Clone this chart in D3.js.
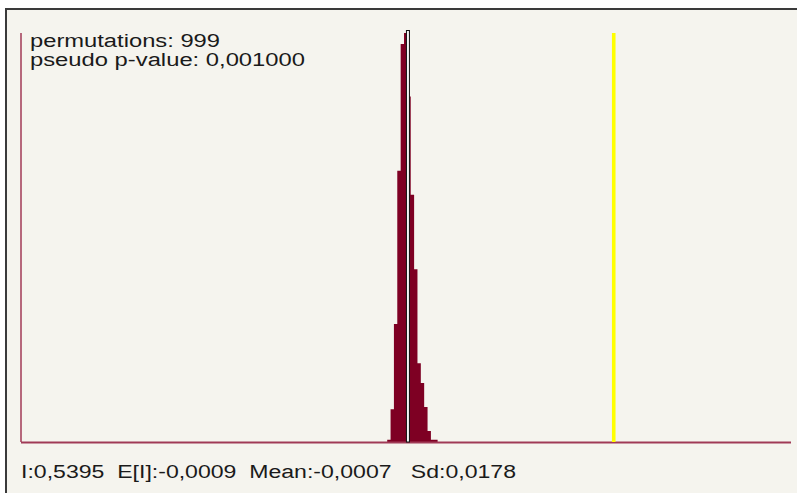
<!DOCTYPE html>
<html>
<head>
<meta charset="utf-8">
<script src="https://cdn.jsdelivr.net/npm/d3@7"></script>
<style>
  html, body { margin: 0; padding: 0; background: #ffffff; }
  svg { display: block; }
</style>
</head>
<body>
<svg id="chart"></svg>
<script>
// permutation histogram (Moran's I reference distribution)
const binEdges = [-0.0553, -0.0465, -0.0377, -0.0289, -0.0200, -0.0112, -0.0024, 0.0064,
                  0.0153, 0.0241, 0.0329, 0.0417, 0.0506, 0.0594, 0.0682, 0.0770];
const binCounts = [1, 15, 54, 124, 182, 187, 158, 113, 79, 36, 27, 16, 5, 1, 1];

const permutations = 999;
const pseudoP = 0.001;
const observedI = 0.5395;
const expectedI = -0.0009;
const meanI = -0.0007;
const sdI = 0.0178;
const xDomain = [-1.017, 1.005];

const width = 797, height = 493;
const plot = { left: 21, right: 791, top: 33, bottom: 442 };

const fmt = (v, d) => v.toFixed(d).replace(".", ",");

const svg = d3.select("#chart").attr("width", width).attr("height", height);

// panel
svg.append("rect").attr("x", 7).attr("y", 10).attr("width", width - 7).attr("height", height - 10)
  .attr("fill", "#f5f4ee");
svg.append("line").attr("x1", 6).attr("x2", width).attr("y1", 9).attr("y2", 9)
  .attr("stroke", "#3a3a3a").attr("stroke-width", 2);
svg.append("line").attr("x1", 6).attr("x2", 6).attr("y1", 8).attr("y2", height)
  .attr("stroke", "#3a3a3a").attr("stroke-width", 2);

const x = d3.scaleLinear().domain(xDomain).range([plot.left, plot.right]);
const y = d3.scaleLinear().domain([0, d3.max(binCounts)]).range([plot.bottom, plot.top]);

// histogram drawn as one stepped area so adjacent bins have no seams
const steps = binCounts.map((c, i) => ({ x: binEdges[i], count: c }));
steps.push({ x: binEdges[binEdges.length - 1], count: binCounts[binCounts.length - 1] });

const area = d3.area()
  .x(d => x(d.x))
  .y0(y(0))
  .y1(d => y(d.count))
  .curve(d3.curveStepAfter);

svg.append("path").datum(steps).attr("d", area).attr("fill", "#7e0023");

// axes
svg.append("line").attr("x1", plot.left).attr("x2", plot.left).attr("y1", y.range()[1]).attr("y2", y(0))
  .attr("stroke", "#a03a56").attr("stroke-width", 1.5);
svg.append("line").attr("x1", plot.left).attr("x2", plot.right).attr("y1", y(0) + 0.5).attr("y2", y(0) + 0.5)
  .attr("stroke", "#a03a56").attr("stroke-width", 2);

// observed I
svg.append("rect").attr("x", x(observedI) - 1.8).attr("width", 3.6)
  .attr("y", y.range()[1]).attr("height", y(0) - y.range()[1])
  .attr("fill", "#ffff00");

// expected I marker
svg.append("rect").attr("x", x(expectedI) - 1.5).attr("width", 3)
  .attr("y", y.range()[1] - 2.5).attr("height", y(0) - y.range()[1] + 2.5)
  .attr("fill", "#f4f4f4").attr("stroke", "#111").attr("stroke-width", 1);

// texts
const txt = (str, tx, ty, len) => svg.append("text")
  .attr("x", tx).attr("y", ty)
  .attr("textLength", len).attr("lengthAdjust", "spacingAndGlyphs")
  .attr("font-family", "'Liberation Sans', Arial, sans-serif")
  .attr("font-size", 18).attr("fill", "#1a1a1a")
  .attr("xml:space", "preserve")
  .text(str);

txt(`permutations: ${permutations}`, 30, 47, 190);
txt(`pseudo p-value: ${fmt(pseudoP, 6)}`, 30, 66, 275);
txt(`I:${fmt(observedI, 4)}  E[I]:${fmt(expectedI, 4)}  Mean:${fmt(meanI, 4)}   Sd:${fmt(sdI, 4)}`, 21, 478, 495);
</script>
</body>
</html>
